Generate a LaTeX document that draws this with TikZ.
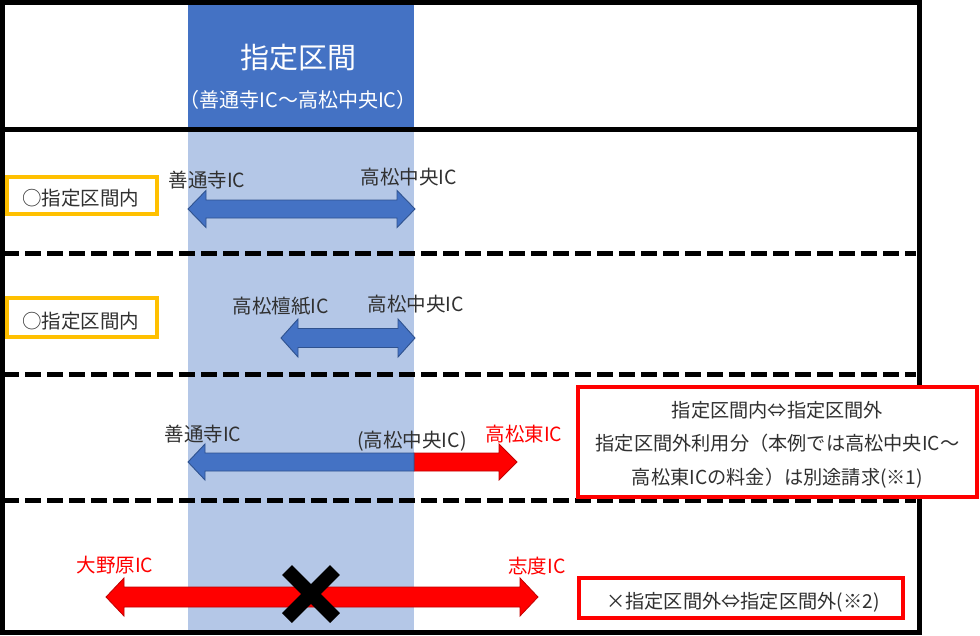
\documentclass[tikz,border=0pt]{standalone}
\usepackage{fontspec}
\setmainfont{Noto Sans CJK JP}
\definecolor{bandDark}{HTML}{4472C4}
\definecolor{bandLight}{HTML}{B4C7E7}
\definecolor{arrBlue}{HTML}{4472C4}
\definecolor{arrBlueEdge}{HTML}{2F528F}
\definecolor{arrRed}{HTML}{FF0000}
\definecolor{arrRedEdge}{HTML}{C00000}
\definecolor{boxOrange}{HTML}{FFC000}
\definecolor{txtGray}{HTML}{303030}
\newcommand{\DblArrow}[7]{%
  \path[#1] (#2,#4) -- ({#2+#5},{#4-#6}) -- ({#2+#5},{#4-#7}) -- ({#3-#5},{#4-#7})
    -- ({#3-#5},{#4-#6}) -- (#3,#4) -- ({#3-#5},{#4+#6}) -- ({#3-#5},{#4+#7})
    -- ({#2+#5},{#4+#7}) -- ({#2+#5},{#4+#6}) -- cycle;}
\begin{document}
\begin{tikzpicture}[x=1pt,y=-1pt,
  framestyle/.style={line width=5pt,black},
  dashline/.style={line width=5pt,black,dash pattern=on 16pt off 6pt},
  bluearrow/.style={fill=arrBlue,draw=arrBlueEdge,line width=0.9pt,line join=miter},
  redarrow/.style={fill=arrRed,draw=arrRedEdge,line width=0.8pt,line join=miter},
  lbl/.style={text=txtGray,font=\fontsize{19.5}{21}\selectfont,inner sep=0pt},
  redlbl/.style={text=arrRed,font=\fontsize{19.5}{21}\selectfont,inner sep=0pt},
  okbox/.style={draw=boxOrange,line width=3.5pt,fill=white},
  notebox/.style={draw=arrRed,line width=4pt,fill=white},
  notetxt/.style={text=txtGray,font=\fontsize{19.2}{21}\selectfont,inner sep=0pt}]
\useasboundingbox (0,0) rectangle (980,635);
% bands
\fill[bandDark] (188,3) rectangle (414,128);
\fill[bandLight] (188,128) rectangle (414,631);
% frame and separators
\draw[framestyle] (2.5,2.5) rectangle (919,632);
\draw[framestyle] (2.5,129) -- (919,129);
\draw[dashline] (3,253) -- (916,253);
\draw[dashline] (3,374) -- (916,374);
\draw[dashline] (3,500) -- (916,500);
% title
\node[text=white,font=\fontsize{29}{31}\selectfont,inner sep=0pt] (title) at (298,58) {指定区間};
\node[text=white,font=\fontsize{20}{22}\selectfont,inner sep=0pt] (subtitle) at (298,100) {（善通寺IC～高松中央IC）};
% row 1
\draw[okbox] (7,177) rectangle (157,214);
\node[lbl] (ok1) at (81,198) {○指定区間内};
\node[lbl] (r1a) at (207,180) {善通寺IC};
\node[lbl] (r1b) at (409,177) {高松中央IC};
\DblArrow{bluearrow}{188}{415}{209}{18}{18.5}{9}
% row 2
\draw[okbox] (7,298) rectangle (157,337);
\node[lbl] (ok2) at (81,321) {○指定区間内};
\node[lbl] (r2a) at (281,306) {高松檀紙IC};
\node[lbl] (r2b) at (416,304) {高松中央IC};
\DblArrow{bluearrow}{281}{415}{338}{17}{19}{9.5}
% row 3
\path[redarrow] (414,453) -- (499,453) -- (499,444) -- (517,462) -- (499,480) -- (499,471) -- (414,471) -- cycle;
\path[bluearrow] (188,462) -- (205,444) -- (205,453) -- (414,453) -- (414,471) -- (205,471) -- (205,480) -- cycle;
\node[lbl] (r3a) at (203,434) {善通寺IC};
\node[lbl] (r3b) at (412,441) {(高松中央IC)};
\node[redlbl] (r3c) at (524,434) {高松東IC};
% row 4
\DblArrow{redarrow}{106}{538}{597}{18}{19}{10}
\node[redlbl] (r4a) at (115,565) {大野原IC};
\node[redlbl] (r4b) at (537,566) {志度IC};
\draw[line width=14pt,black] (287,570) -- (335,618);
\draw[line width=14pt,black] (335,570) -- (287,618);
% notes
\draw[notebox] (578,387) rectangle (977,497);
\node[notetxt] (n1) at (777.5,410) {指定区間内⇔指定区間外};
\node[notetxt] (n2) at (777.5,443) {指定区間外利用分（本例では高松中央IC～};
\node[notetxt] (n3) at (777.5,478) {高松東ICの料金）は別途請求(※1)};
\draw[notebox] (579,578) rectangle (903,618);
\node[notetxt] (n4) at (743,602) {×指定区間外⇔指定区間外(※2)};
\end{tikzpicture}
\end{document}
